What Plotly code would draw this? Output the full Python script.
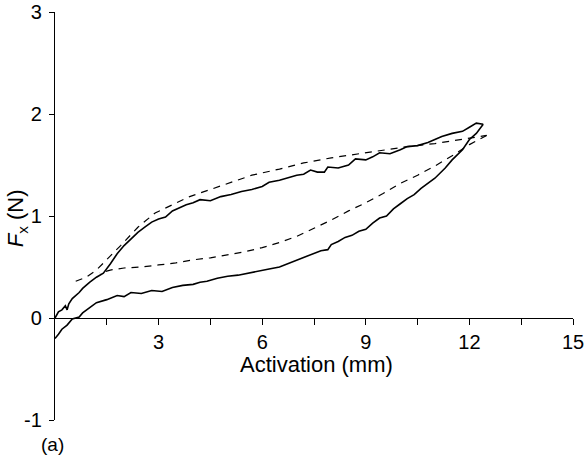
import plotly.graph_objects as go

# Measured loading branch (solid, upper)
load_x = [0.0, 0.1, 0.2, 0.3, 0.35, 0.4, 0.5, 0.6, 0.7, 0.8, 1.0, 1.2, 1.4, 1.6, 1.8, 2.0,
          2.2, 2.4, 2.6, 2.8, 3.0, 3.2, 3.4, 3.6, 3.8, 4.0, 4.2, 4.5, 4.8, 5.1, 5.4, 5.7,
          6.0, 6.2, 6.5, 6.8, 7.0, 7.2, 7.4, 7.6, 7.8, 7.9, 8.2, 8.5, 8.7, 9.0, 9.2, 9.4,
          9.7, 10.0, 10.2, 10.5, 10.8, 11.0, 11.2, 11.5, 11.8, 12.0, 12.2, 12.4]
load_y = [0.00, 0.06, 0.08, 0.12, 0.08, 0.14, 0.19, 0.22, 0.25, 0.29, 0.35, 0.40, 0.44, 0.53, 0.63, 0.71,
          0.78, 0.84, 0.89, 0.94, 0.97, 0.99, 1.05, 1.08, 1.11, 1.13, 1.16, 1.15, 1.19, 1.21, 1.24, 1.26,
          1.29, 1.33, 1.35, 1.38, 1.40, 1.41, 1.45, 1.43, 1.43, 1.48, 1.47, 1.50, 1.56, 1.55, 1.58, 1.62,
          1.61, 1.65, 1.68, 1.69, 1.72, 1.75, 1.78, 1.81, 1.83, 1.87, 1.91, 1.90]

# Measured unloading branch (solid, lower)
unload_x = [12.4, 12.2, 12.0, 11.8, 11.5, 11.3, 11.0, 10.8, 10.6, 10.4, 10.2, 10.0, 9.8, 9.6, 9.4,
            9.2, 9.0, 8.8, 8.6, 8.4, 8.2, 8.0, 7.9, 7.7, 7.4, 7.1, 6.8, 6.5, 6.2, 5.9, 5.6, 5.3,
            5.0, 4.7, 4.4, 4.2, 4.0, 3.7, 3.4, 3.1, 2.8, 2.5, 2.2, 2.0, 1.8, 1.5, 1.2, 1.0, 0.8,
            0.7, 0.5, 0.35, 0.2, 0.1, 0.0]
unload_y = [1.90, 1.81, 1.75, 1.65, 1.55, 1.47, 1.37, 1.32, 1.27, 1.21, 1.17, 1.12, 1.07, 1.00, 0.98,
            0.93, 0.87, 0.85, 0.81, 0.79, 0.75, 0.72, 0.67, 0.66, 0.62, 0.58, 0.54, 0.50, 0.48, 0.46, 0.44, 0.42,
            0.41, 0.39, 0.36, 0.35, 0.33, 0.32, 0.30, 0.26, 0.27, 0.24, 0.25, 0.21, 0.22, 0.18, 0.15, 0.10, 0.05,
            0.01, -0.01, -0.07, -0.11, -0.16, -0.20]

# Model loading branch (dashed, upper)
model_up_x = [0.6, 0.9, 1.2, 1.5, 1.9, 2.4, 2.9, 3.4, 3.9, 4.5, 5.0, 5.7, 6.5, 7.2, 8.0, 8.8,
              9.5, 10.2, 11.0, 11.8, 12.5]
model_up_y = [0.36, 0.40, 0.47, 0.57, 0.71, 0.89, 1.03, 1.11, 1.19, 1.26, 1.32, 1.40, 1.46, 1.52, 1.57, 1.61,
              1.64, 1.68, 1.71, 1.75, 1.79]

# Model unloading branch (dashed, lower)
model_dn_x = [12.5, 12.0, 11.5, 11.0, 10.5, 10.0, 9.5, 9.0, 8.5, 8.0, 7.5, 7.0, 6.5, 6.0, 5.5,
              5.0, 4.5, 4.0, 3.5, 3.0, 2.5, 2.0, 1.6, 1.3]
model_dn_y = [1.79, 1.70, 1.59, 1.49, 1.40, 1.32, 1.22, 1.13, 1.05, 0.96, 0.88, 0.80, 0.74, 0.69, 0.65,
              0.62, 0.59, 0.57, 0.54, 0.52, 0.50, 0.49, 0.47, 0.44]

x_ticks = [3, 6, 9, 12, 15]
y_ticks = [-1, 0, 1, 2, 3]

fig = go.Figure()
solid = dict(color="black", width=1.6)
dashed = dict(color="black", width=1.2, dash="7px,6px")
fig.add_trace(go.Scatter(x=load_x, y=load_y, mode="lines", line=solid, showlegend=False))
fig.add_trace(go.Scatter(x=unload_x, y=unload_y, mode="lines", line=solid, showlegend=False))
fig.add_trace(go.Scatter(x=model_up_x, y=model_up_y, mode="lines", line=dashed, showlegend=False))
fig.add_trace(go.Scatter(x=model_dn_x, y=model_dn_y, mode="lines", line=dashed, showlegend=False))

fam = "Liberation Sans, Arial, sans-serif"
tickfont = dict(family=fam, size=20, color="black")
titlefont = dict(family=fam, size=22, color="black")

fig.update_layout(
    width=584, height=461,
    margin=dict(l=55, r=11, t=12, b=41, autoexpand=False),
    paper_bgcolor="white", plot_bgcolor="white",
    font=tickfont,
    xaxis=dict(range=[0, 15], tickvals=x_ticks, ticktext=[str(v) for v in x_ticks],
               showgrid=False, zeroline=False, showline=True, linecolor="black", linewidth=1.2,
               ticks="outside", ticklen=6, tickwidth=1.2, tickcolor="black",
               minor=dict(tickvals=[1.5, 4.5, 7.5, 10.5, 13.5], ticks="outside", ticklen=6,
                          tickwidth=1.2, tickcolor="black"),
               anchor="free", position=0.25, tickfont=tickfont, automargin=False,
               ticklabeloverflow="allow"),
    yaxis=dict(range=[-1, 3], tickvals=y_ticks, ticktext=[str(v) for v in y_ticks],
               showgrid=False, zeroline=False, showline=True, linecolor="black", linewidth=1.2,
               ticks="outside", ticklen=5, tickwidth=1.2, tickcolor="black",
               ticklabelstandoff=3, tickfont=tickfont, automargin=False,
               ticklabeloverflow="allow"),
    annotations=[
        dict(text="Activation (mm)", xref="paper", yref="paper", x=0.504, y=0.135,
             xanchor="center", yanchor="middle", showarrow=False, font=titlefont),
        dict(text="<i>F</i><sub>x</sub> (N)", xref="paper", yref="paper", x=-0.073, y=0.495,
             xanchor="center", yanchor="middle", textangle=-90, showarrow=False, font=titlefont),
        dict(text="(a)", xref="paper", yref="paper", x=-0.004, y=-0.061,
             xanchor="center", yanchor="middle", showarrow=False,
             font=dict(family=fam, size=19, color="black")),
    ],
)

# Remove the default 8px page margin so the figure fills the window exactly.
fig.write_html("out.html", config={"displayModeBar": False},
               post_script="document.body.style.margin='0';")
